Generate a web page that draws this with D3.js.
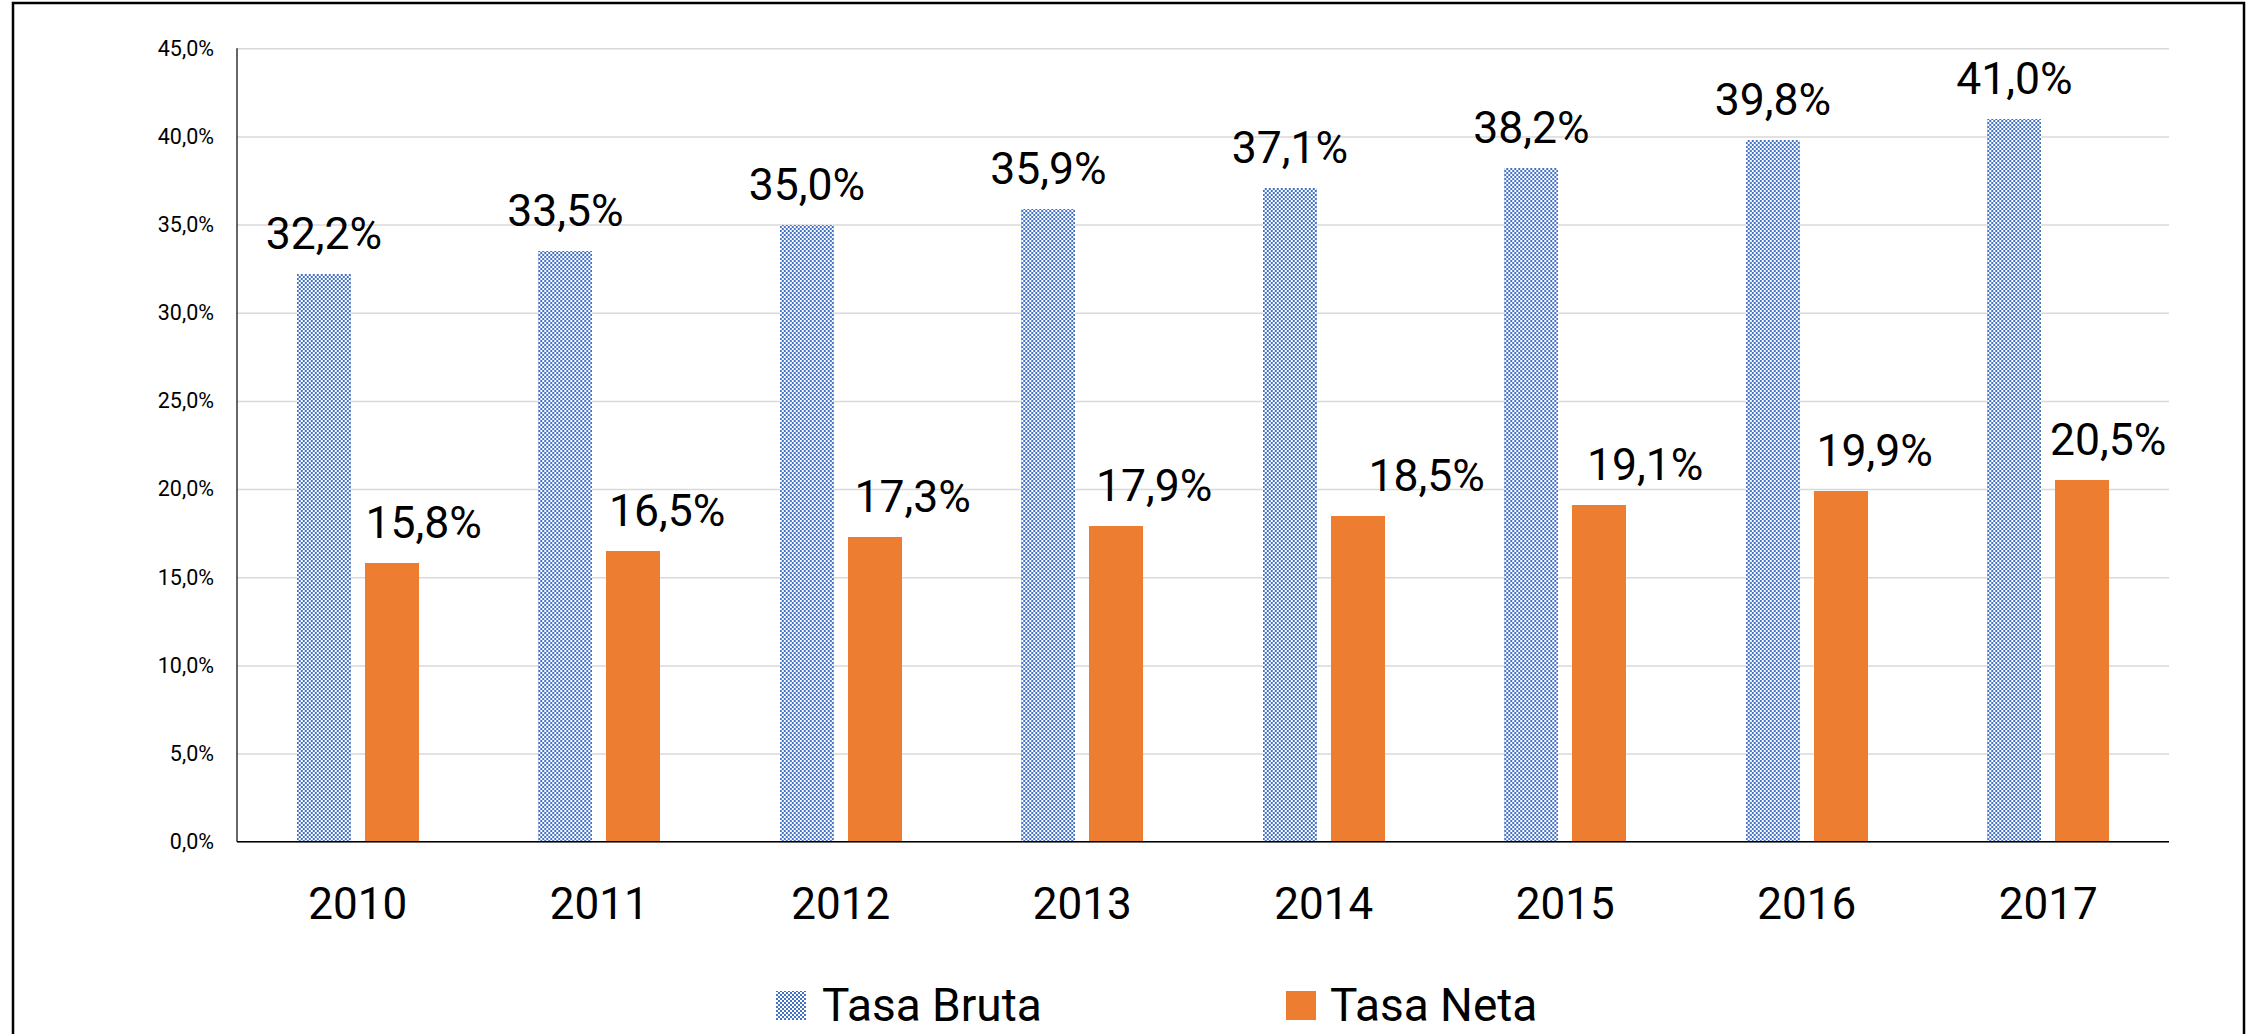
<!DOCTYPE html>
<html>
<head>
<meta charset="utf-8">
<script src="https://cdn.jsdelivr.net/npm/d3@7"></script>
<style>
  html, body { margin: 0; padding: 0; background: #fff; }
  svg text { font-family: Roboto, "Noto Sans", sans-serif; fill: #000; }
</style>
</head>
<body>
<svg id="chart"></svg>
<script>
// data
const years = ["2010", "2011", "2012", "2013", "2014", "2015", "2016", "2017"];
const series = ["Tasa Bruta", "Tasa Neta"];
const tasaBruta = [32.2, 33.5, 35.0, 35.9, 37.1, 38.2, 39.8, 41.0];
const tasaNeta = [15.8, 16.5, 17.3, 17.9, 18.5, 19.1, 19.9, 20.5];
const yTicks = [0, 5, 10, 15, 20, 25, 30, 35, 40, 45];

// the orange labels were nudged right by hand in the original
const netaLabelShift = [32, 34, 38, 38, 69, 46, 34, 26];

const W = 2249, H = 1034;
const plot = {left: 237, right: 2169, top: 48.3, bottom: 841.7};

const locale = d3.formatLocale({decimal: ",", thousands: ".", grouping: [3], currency: ["", ""]});
const pct = v => locale.format(".1f")(v) + "%";

const svg = d3.select("#chart").attr("width", W).attr("height", H);

// checkerboard fill for Tasa Bruta
const defs = svg.append("defs");
const pat = defs.append("pattern")
  .attr("id", "checker")
  .attr("patternUnits", "userSpaceOnUse")
  .attr("width", 4).attr("height", 4);
pat.append("rect").attr("width", 4).attr("height", 4).attr("fill", "#4472C4");
pat.append("rect").attr("x", 0).attr("y", 0).attr("width", 2).attr("height", 2).attr("fill", "#fff");
pat.append("rect").attr("x", 2).attr("y", 2).attr("width", 2).attr("height", 2).attr("fill", "#fff");

const fills = ["url(#checker)", "#ED7D31"];

// frame
svg.append("rect")
  .attr("x", 13).attr("y", 3)
  .attr("width", 2231).attr("height", 1050)
  .attr("fill", "none").attr("stroke", "#000").attr("stroke-width", 2.5);

const x0 = d3.scaleBand().domain(years).range([plot.left, plot.right])
  .paddingInner(0.495).paddingOuter(0.2475);
const x1 = d3.scaleBand().domain(series).range([0, x0.bandwidth()]).paddingInner(0.2);
const y = d3.scaleLinear().domain([0, 45]).range([plot.bottom, plot.top]);

// gridlines
svg.append("g")
  .attr("transform", `translate(${plot.left},0)`)
  .call(d3.axisLeft(y).tickValues(yTicks).tickSize(-(plot.right - plot.left)).tickFormat(""))
  .call(g => g.select(".domain").remove())
  .call(g => g.selectAll("line").attr("stroke", "#d9d9d9").attr("stroke-width", 1.5));

// y tick labels
svg.append("g")
  .attr("transform", `translate(${plot.left},0)`)
  .call(d3.axisLeft(y).tickValues(yTicks).tickSize(0).tickPadding(23).tickFormat(pct))
  .call(g => g.select(".domain").remove())
  .call(g => g.selectAll("text").attr("font-size", 21.5).attr("dy", "0.32em")
    .style("font-family", "Roboto, sans-serif"));

// bars
const rows = years.map((yr, i) => ({year: yr, vals: [tasaBruta[i], tasaNeta[i]], i}));
const grp = svg.selectAll("g.year")
  .data(rows)
  .enter()
  .append("g")
  .attr("class", "year")
  .attr("transform", d => `translate(${x0(d.year)},0)`);

grp.selectAll("rect")
  .data(d => d.vals.map((v, k) => ({v, k, s: series[k]})))
  .enter()
  .append("rect")
  .attr("x", d => x1(d.s))
  .attr("y", d => y(d.v))
  .attr("width", x1.bandwidth())
  .attr("height", d => y(0) - y(d.v))
  .attr("fill", d => fills[d.k])
  .attr("shape-rendering", "crispEdges");

// value labels
grp.selectAll("text.val")
  .data(d => d.vals.map((v, k) => ({v, k, s: series[k], i: d.i})))
  .enter()
  .append("text")
  .attr("class", "val")
  .attr("x", d => x1(d.s) + x1.bandwidth() / 2 + (d.k === 1 ? netaLabelShift[d.i] : 0))
  .attr("y", d => y(d.v) - 25)
  .attr("text-anchor", "middle")
  .attr("font-size", 44.5)
  .text(d => pct(d.v));

// axis lines
svg.append("line")
  .attr("x1", plot.left).attr("x2", plot.left)
  .attr("y1", plot.top).attr("y2", plot.bottom)
  .attr("stroke", "#000").attr("stroke-width", 1.2);
svg.append("line")
  .attr("x1", plot.left).attr("x2", plot.right)
  .attr("y1", plot.bottom).attr("y2", plot.bottom)
  .attr("stroke", "#000").attr("stroke-width", 1.5);

// category labels
svg.append("g")
  .selectAll("text")
  .data(years)
  .enter()
  .append("text")
  .attr("x", d => x0(d) + x0.bandwidth() / 2)
  .attr("y", 919)
  .attr("text-anchor", "middle")
  .attr("font-size", 44)
  .text(d => d);

// legend
const legendX = [776, 1286];
const leg = svg.append("g")
  .selectAll("g")
  .data(series)
  .enter()
  .append("g")
  .attr("transform", (d, i) => `translate(${legendX[i]},0)`);
leg.append("rect")
  .attr("x", 0).attr("y", 991)
  .attr("width", 30).attr("height", 29)
  .attr("fill", (d, i) => fills[i])
  .attr("shape-rendering", "crispEdges");
leg.append("text")
  .attr("x", (d, i) => i === 0 ? 46 : 44)
  .attr("y", 1020.5)
  .attr("font-size", 46)
  .text(d => d);
</script>
</body>
</html>
